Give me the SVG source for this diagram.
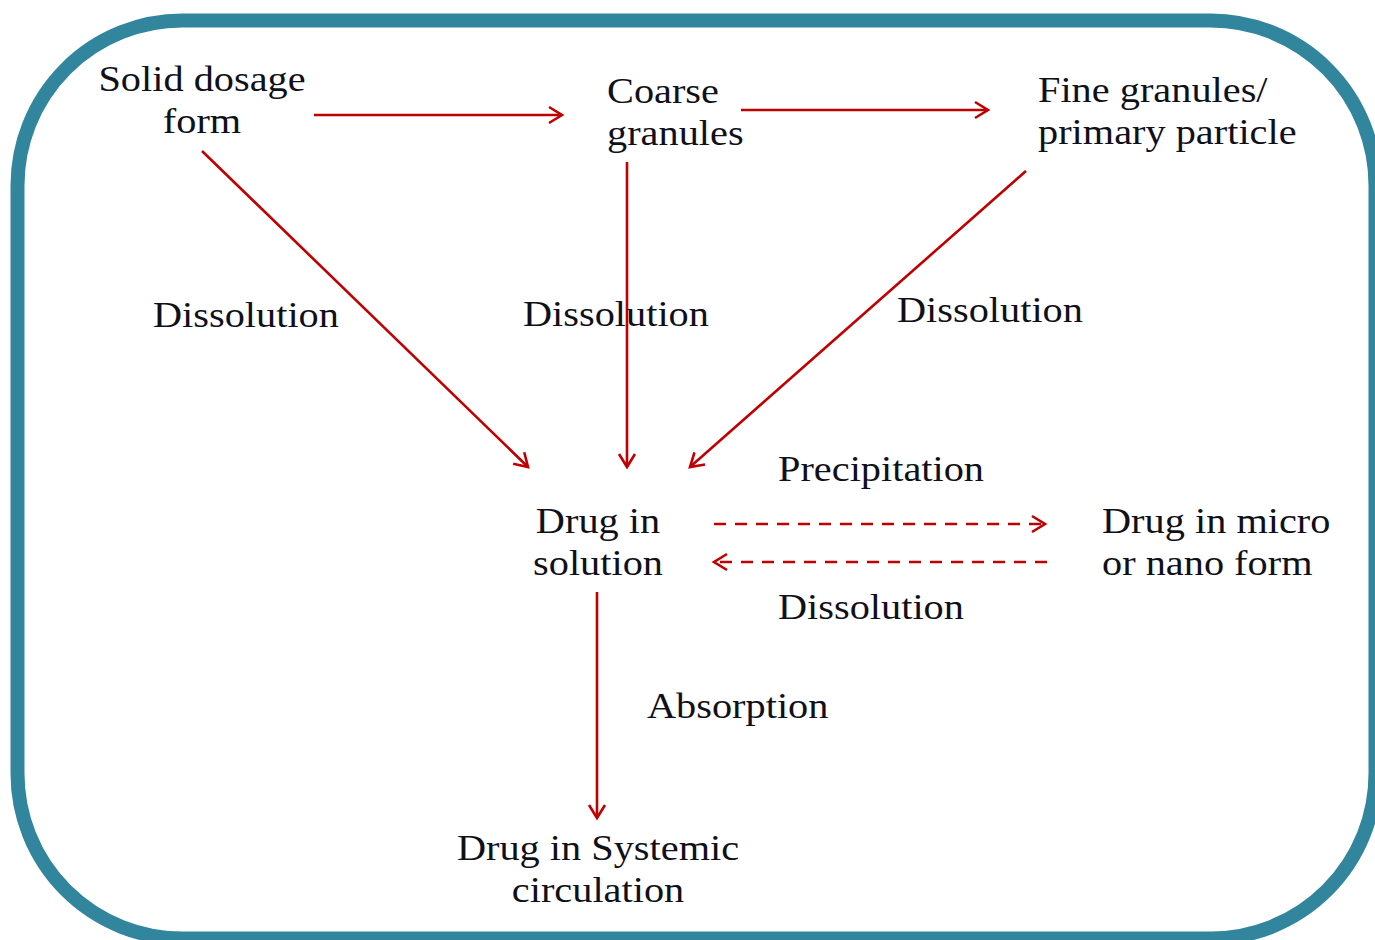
<svg xmlns="http://www.w3.org/2000/svg" width="1375" height="940" viewBox="0 0 1375 940">
<style>
text{font-family:"Liberation Serif","Times New Roman",serif;font-size:36px;fill:#101018}
.c{stroke:#c00000;stroke-width:2.6;fill:none}
.d{stroke-dasharray:12 9}
</style>
<defs>
<marker id="ah" markerUnits="userSpaceOnUse" markerWidth="20" markerHeight="20" viewBox="0 0 20 20" refX="16" refY="10" orient="auto">
<path d="M3,2 L16,10 L3,18" fill="none" stroke="#c00000" stroke-width="2.6"/>
</marker>
</defs>
<rect width="1375" height="940" fill="#fff"/>
<rect id="frame" x="17.5" y="20.5" width="1358" height="918" rx="165" ry="165" fill="none" stroke="#31869e" stroke-width="14"/>
<g id="connectors">
<line class="c" x1="314" y1="115" x2="562" y2="115" marker-end="url(#ah)"/>
<line class="c" x1="741" y1="110" x2="988" y2="110" marker-end="url(#ah)"/>
<line class="c" x1="202" y1="151" x2="528" y2="467" marker-end="url(#ah)"/>
<line class="c" x1="627" y1="162" x2="627" y2="467" marker-end="url(#ah)"/>
<line class="c" x1="1026" y1="171" x2="690" y2="467" marker-end="url(#ah)"/>
<line class="c d" x1="714" y1="524" x2="1045" y2="524" marker-end="url(#ah)"/>
<line class="c d" x1="1047" y1="562" x2="714" y2="562" marker-end="url(#ah)"/>
<line class="c" x1="597" y1="592" x2="597" y2="818" marker-end="url(#ah)"/>
</g>
<g id="labels">
<text transform="translate(153,327) scale(1.12,1)">Dissolution</text>
<text transform="translate(523,326) scale(1.12,1)">Dissolution</text>
<text transform="translate(897,322) scale(1.12,1)">Dissolution</text>
<text transform="translate(778,481) scale(1.12,1)">Precipitation</text>
<text transform="translate(778,619) scale(1.12,1)">Dissolution</text>
<text transform="translate(647,718) scale(1.12,1)">Absorption</text>
</g>
<g id="solid">
<text text-anchor="middle" transform="translate(202,91) scale(1.12,1)">Solid dosage</text>
<text text-anchor="middle" transform="translate(202,133) scale(1.12,1)">form</text>
</g>
<g id="coarse">
<text transform="translate(607,103) scale(1.12,1)">Coarse</text>
<text transform="translate(607,145) scale(1.12,1)">granules</text>
</g>
<g id="fine">
<text transform="translate(1038,102) scale(1.12,1)">Fine granules/</text>
<text transform="translate(1038,144) scale(1.12,1)">primary particle</text>
</g>
<g id="solution">
<text text-anchor="middle" transform="translate(598,533) scale(1.12,1)">Drug in</text>
<text text-anchor="middle" transform="translate(598,575) scale(1.12,1)">solution</text>
</g>
<g id="micro">
<text transform="translate(1102,533) scale(1.12,1)">Drug in micro</text>
<text transform="translate(1102,575) scale(1.12,1)">or nano form</text>
</g>
<g id="systemic">
<text text-anchor="middle" transform="translate(598,860) scale(1.12,1)">Drug in Systemic</text>
<text text-anchor="middle" transform="translate(598,902) scale(1.12,1)">circulation</text>
</g>
</svg>
